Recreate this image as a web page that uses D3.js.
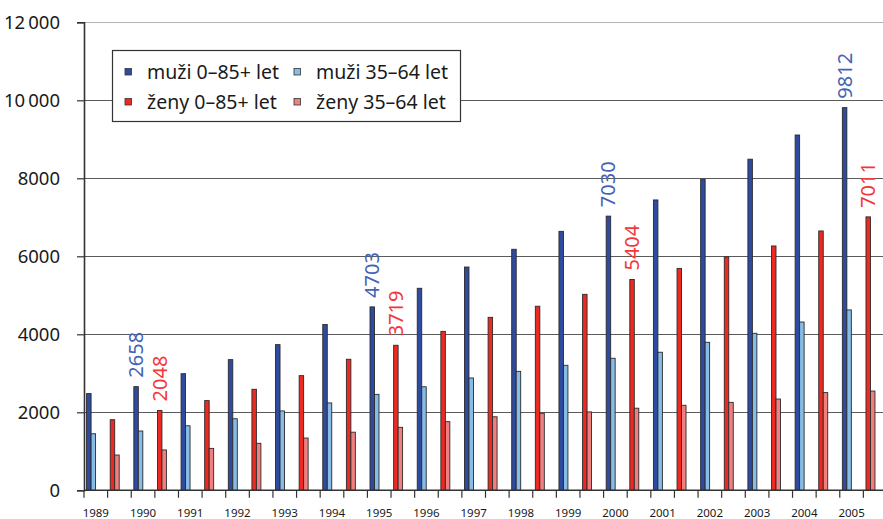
<!DOCTYPE html>
<html>
<head>
<meta charset="utf-8">
<script src="https://cdn.jsdelivr.net/npm/d3@7"></script>
<style>
  html, body { margin: 0; padding: 0; background: #fff; }
  svg { display: block; }
  text { font-family: "Noto Sans", "Liberation Sans", sans-serif; }
</style>
</head>
<body>
<svg id="chart" width="883" height="519"></svg>
<script>
// Years on the category axis
const years = [1989, 1990, 1991, 1992, 1993, 1994, 1995, 1996, 1997, 1998,
               1999, 2000, 2001, 2002, 2003, 2004, 2005];

// Men, all ages (0–85+)
const muziVse = [2480, 2658, 2990, 3350, 3735, 4250, 4703, 5180, 5725, 6180,
                 6640, 7030, 7445, 7975, 8490, 9110, 9812];
// Men, 35–64
const muzi3564 = [1450, 1520, 1655, 1835, 2035, 2240, 2460, 2655, 2880, 3050,
                  3205, 3385, 3540, 3795, 4025, 4315, 4625];
// Women, all ages (0–85+)
const zenyVse = [1810, 2048, 2300, 2590, 2940, 3360, 3719, 4075, 4435, 4720,
                 5025, 5404, 5690, 5985, 6265, 6650, 7011];
// Women, 35–64
const zeny3564 = [905, 1035, 1075, 1205, 1340, 1490, 1615, 1760, 1885, 1975,
                  2010, 2105, 2180, 2255, 2340, 2505, 2545];

// Years whose totals carry a value label
const labelledYears = [1990, 1995, 2000, 2005];

const yTicks = [0, 2000, 4000, 6000, 8000, 10000, 12000];

const legendItems = [
  { label: "muži 0–85+ let", color: "#2f4b9f" },
  { label: "muži 35–64 let", color: "#86bce6" },
  { label: "ženy 0–85+ let", color: "#ec2a22" },
  { label: "ženy 35–64 let", color: "#f08080" }
];

const colors = {
  muziVse: "#2f4b9f", muzi3564: "#86bce6",
  zenyVse: "#ec2a22", zeny3564: "#f08080",
  labelBlue: "#4563b5", labelRed: "#f2383a"
};

const svg = d3.select("#chart");
const W = 883;
const plotL = 84, plotR = 887, plotT = 22.3, plotB = 490.3;

// Each year has a men's slot followed by a women's slot
const slots = years.flatMap(yr => [yr + "-m", yr + "-f"]);
const x = d3.scaleBand().domain(slots).range([plotL, plotR]).paddingInner(0).paddingOuter(0);
const bw = x.bandwidth();
// Two bars per slot, placed toward the left of the slot
const sub = d3.scaleBand().domain(["all", "mid"]).range([bw * 0.11, bw * 0.49]);
const y = d3.scaleLinear().domain([0, 12000]).range([plotB, plotT]);

// Horizontal gridlines
svg.append("g")
  .selectAll("line")
  .data(yTicks.filter(t => t > 0))
  .join("line")
  .attr("x1", plotL).attr("x2", W)
  .attr("y1", d => Math.round(y(d)) + 0.5).attr("y2", d => Math.round(y(d)) + 0.5)
  .attr("stroke", d => d === 12000 ? "#b4b4b4" : "#5a5a5a")
  .attr("stroke-width", 1);

// Bars
const barData = years.flatMap((yr, i) => [
  { slot: yr + "-m", k: "all", v: muziVse[i], c: colors.muziVse },
  { slot: yr + "-m", k: "mid", v: muzi3564[i], c: colors.muzi3564 },
  { slot: yr + "-f", k: "all", v: zenyVse[i], c: colors.zenyVse },
  { slot: yr + "-f", k: "mid", v: zeny3564[i], c: colors.zeny3564 }
]);

svg.append("g")
  .selectAll("rect")
  .data(barData)
  .join("rect")
  .attr("x", d => x(d.slot) + sub(d.k))
  .attr("y", d => y(d.v))
  .attr("width", sub.bandwidth())
  .attr("height", d => y(0) - y(d.v))
  .attr("fill", d => d.c)
  .attr("stroke", "#2a2a2a")
  .attr("stroke-width", 0.9);

// Y axis
const yAxis = d3.axisLeft(y)
  .tickValues(yTicks)
  .tickSize(7)
  .tickPadding(17)
  .tickFormat(d => d >= 10000 ? d3.format(",")(d).replace(",", "\u2009") : String(d));
const gy = svg.append("g").attr("transform", `translate(${plotL},0)`).call(yAxis);
gy.select(".domain").attr("stroke", "#333").attr("stroke-width", 1.6);
gy.selectAll(".tick line").attr("stroke", "#333").attr("stroke-width", 1.2);
gy.selectAll(".tick text")
  .attr("fill", "#1a1a1a")
  .style("font-size", "18.5px");

// X axis: ticks at every slot boundary, year labels under men's slots
const boundaries = slots.map(s => x(s)).concat([plotR]);
const gx = svg.append("g");
gx.append("line")
  .attr("x1", plotL).attr("x2", W)
  .attr("y1", plotB).attr("y2", plotB)
  .attr("stroke", "#333").attr("stroke-width", 1.6);
gx.selectAll("line.tk")
  .data(boundaries)
  .join("line")
  .attr("class", "tk")
  .attr("x1", d => d).attr("x2", d => d)
  .attr("y1", plotB).attr("y2", plotB + 7.5)
  .attr("stroke", "#333").attr("stroke-width", 1.2);
gx.selectAll("text")
  .data(years)
  .join("text")
  .attr("x", d => x(d + "-m") + bw / 2)
  .attr("y", 517)
  .attr("text-anchor", "middle")
  .attr("fill", "#1a1a1a")
  .style("font-size", "11.5px")
  .text(d => d);

// Rotated value labels above selected totals
const labelData = years.flatMap((yr, i) => labelledYears.includes(yr) ? [
  { slot: yr + "-m", v: muziVse[i], c: colors.labelBlue },
  { slot: yr + "-f", v: zenyVse[i], c: colors.labelRed }
] : []);
svg.append("g")
  .selectAll("text")
  .data(labelData)
  .join("text")
  .attr("transform", d => `translate(${x(d.slot) + sub("all") + sub.bandwidth() / 2 + 7},${y(d.v) - 9}) rotate(-90)`)
  .attr("text-anchor", "start")
  .attr("fill", d => d.c)
  .style("font-size", "20px")
  .text(d => d.v);

// Legend
const lg = svg.append("g");
lg.append("rect")
  .attr("x", 112.5).attr("y", 50.5)
  .attr("width", 348).attr("height", 71)
  .attr("fill", "#fff").attr("stroke", "#333").attr("stroke-width", 1.2);
const lx = [125, 294], ly = [72, 102];
legendItems.forEach((it, i) => {
  const cx = lx[i % 2], cy = ly[Math.floor(i / 2)];
  lg.append("rect")
    .attr("x", cx).attr("y", cy - 3.5)
    .attr("width", 6.5).attr("height", 6.5)
    .attr("fill", it.color).attr("stroke", "#333").attr("stroke-width", 0.8);
  lg.append("text")
    .attr("x", cx + 22).attr("y", cy)
    .attr("dy", "0.35em")
    .attr("fill", "#1a1a1a")
    .style("font-size", "19.5px")
    .text(it.label);
});
</script>
</body>
</html>
